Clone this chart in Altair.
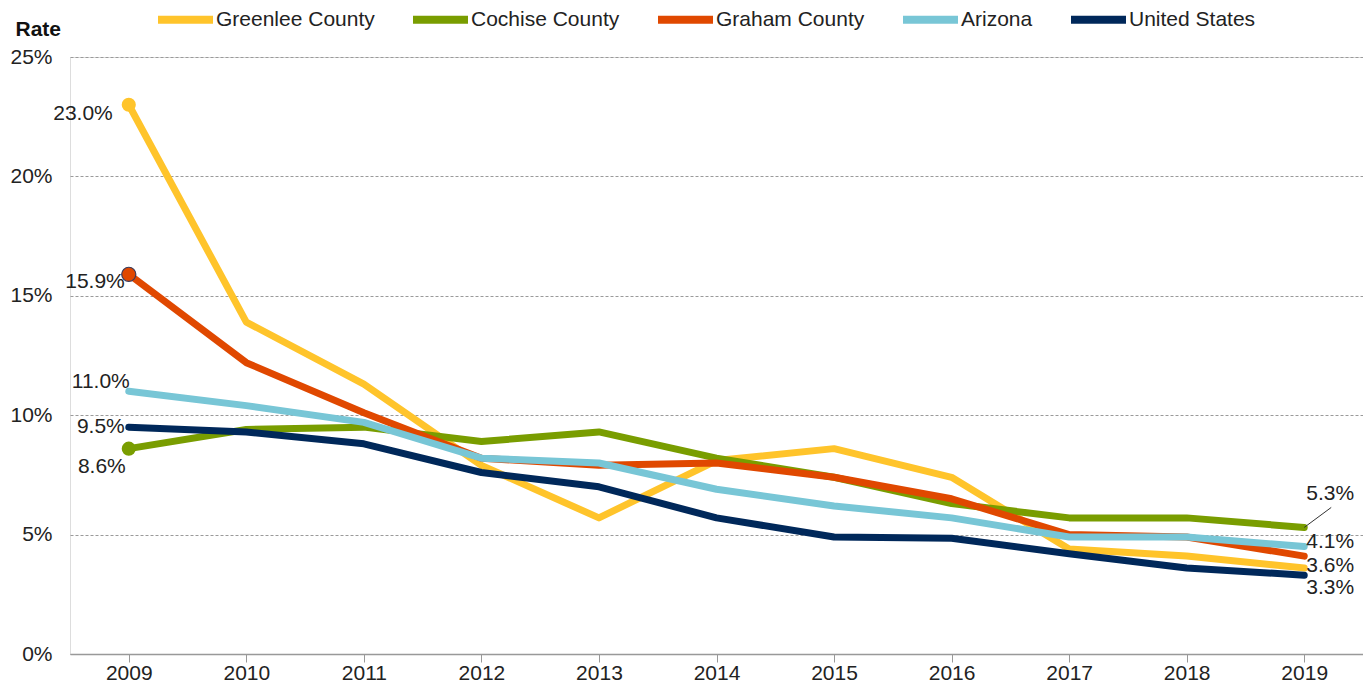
import altair as alt
import pandas as pd

years = [2009, 2010, 2011, 2012, 2013, 2014, 2015, 2016, 2017, 2018, 2019]
series_names = ["Greenlee County", "Cochise County", "Graham County", "Arizona", "United States"]
greenlee = [23.0, 13.9, 11.3, 7.9, 5.7, 8.1, 8.6, 7.4, 4.4, 4.1, 3.6]
cochise = [8.6, 9.4, 9.5, 8.9, 9.3, 8.2, 7.4, 6.3, 5.7, 5.7, 5.3]
graham = [15.9, 12.2, 10.1, 8.2, 7.9, 8.0, 7.4, 6.5, 5.0, 4.9, 4.1]
arizona = [11.0, 10.4, 9.7, 8.2, 8.0, 6.9, 6.2, 5.7, 4.9, 4.9, 4.5]
united_states = [9.5, 9.3, 8.8, 7.6, 7.0, 5.7, 4.9, 4.85, 4.2, 3.6, 3.3]
colors = ["#FFC42B", "#799D00", "#E04800", "#78C6D6", "#00285A"]
y_ticks = [0, 5, 10, 15, 20, 25]

all_values = [greenlee, cochise, graham, arizona, united_states]

rows = []
for name, vals in zip(series_names, all_values):
    for yr, v in zip(years, vals):
        rows.append({"year": str(yr), "series": name, "rate": v})
df = pd.DataFrame(rows)

FONT = "Liberation Sans, Arial, sans-serif"
FS = 21
x_enc = alt.X("year:O", scale=alt.Scale(type="point", padding=0.5, domain=[str(y) for y in years]),
              axis=alt.Axis(title=None, labelAngle=0, labelFontSize=FS, labelColor="#222",
                            labelFont=FONT, domainColor="#999", domainWidth=1.5,
                            tickColor="#999", tickSize=8, labelPadding=11,
                            labelBaseline="middle", grid=False))
y_enc = alt.Y("rate:Q", scale=alt.Scale(domain=[0, 25], nice=False, zero=True),
              axis=alt.Axis(values=y_ticks, labelExpr="datum.value + '%'", title="Rate",
                            titleAngle=0, titleAlign="left", titleBaseline="middle",
                            titleX=-55, titleY=-28, titleFontSize=FS, titleFontWeight="bold",
                            titleFont=FONT, titleColor="#111",
                            labelFontSize=FS, labelColor="#222", labelFont=FONT, labelPadding=18,
                            ticks=False, domain=False, grid=True, gridDash=[3, 2],
                            gridColor="#9a9a9a", gridWidth=1))

color_enc = alt.Color("series:N", scale=alt.Scale(domain=series_names, range=colors),
                      legend=alt.Legend(title=None, orient="none", direction="horizontal",
                                        legendX=105, legendY=-48, columns=5,
                                        symbolType="M-5,0H5", symbolSize=121,
                                        symbolStrokeWidth=8, labelOffset=20,
                                        columnPadding=22, labelFontSize=FS, labelFont=FONT,
                                        labelColor="#222", padding=0))

lines = alt.Chart(df).mark_line(strokeWidth=7, strokeCap="round", strokeJoin="round").encode(
    x=x_enc, y=y_enc, color=color_enc, order=alt.Order("year:O"))

start_df = df[(df["year"] == "2009") & (df["series"].isin(["Greenlee County", "Cochise County", "Graham County"]))]
dots = alt.Chart(start_df).mark_point(filled=True, size=200, opacity=1).encode(
    x=alt.X("year:O"), y=alt.Y("rate:Q"),
    color=alt.Color("series:N", legend=None),
    stroke=alt.condition(alt.datum.series == "Graham County", alt.value("#3a3a5a"), alt.value(None)),
    strokeWidth=alt.condition(alt.datum.series == "Graham County", alt.value(1.2), alt.value(0)))

# value labels: (series, year, align, dx, dy)
label_specs = [
    ("Greenlee County", "2009", "right", -16, 9),
    ("Graham County", "2009", "right", -4, 8),
    ("Arizona", "2009", "right", 1, -9),
    ("United States", "2009", "right", -4, 0),
    ("Cochise County", "2009", "right", -3, 18),
    ("Cochise County", "2019", "left", 2, -33),
    ("Graham County", "2019", "left", 2, -14),
    ("Greenlee County", "2019", "left", 2, -2),
    ("United States", "2019", "left", 2, 13),
]
layers = [lines, dots]
for s, yr, al, dx, dy in label_specs:
    sub = df[(df["series"] == s) & (df["year"] == yr)].copy()
    sub["label"] = sub["rate"].map(lambda v: f"{v:.1f}%")
    layers.append(alt.Chart(sub).mark_text(align=al, baseline="middle", dx=dx, dy=dy,
                                           fontSize=FS, font=FONT, color="#222").encode(
        x=alt.X("year:O"), y=alt.Y("rate:Q"), text="label:N"))

lead = df[(df["series"] == "Cochise County") & (df["year"] == "2019")]
leader = alt.Chart(lead).mark_rule(color="#333", strokeWidth=1, xOffset=0,
                                   x2Offset=27, y2Offset=-20).encode(
    x=alt.X("year:O"), y=alt.Y("rate:Q"), x2="year:O", y2="rate:Q")
layers.append(leader)

chart = alt.layer(*layers).properties(
    width=1293, height=597,
    autosize=alt.AutoSizeParams(type="none"),
    padding={"left": 62, "top": 49, "right": 0, "bottom": 30},
).configure_view(stroke=None).configure(font=FONT).configure_axisY(
    domain=False, ticks=False).configure_axisX(grid=False)

chart.save("out.html", embed_options={"renderer": "svg", "actions": False})
